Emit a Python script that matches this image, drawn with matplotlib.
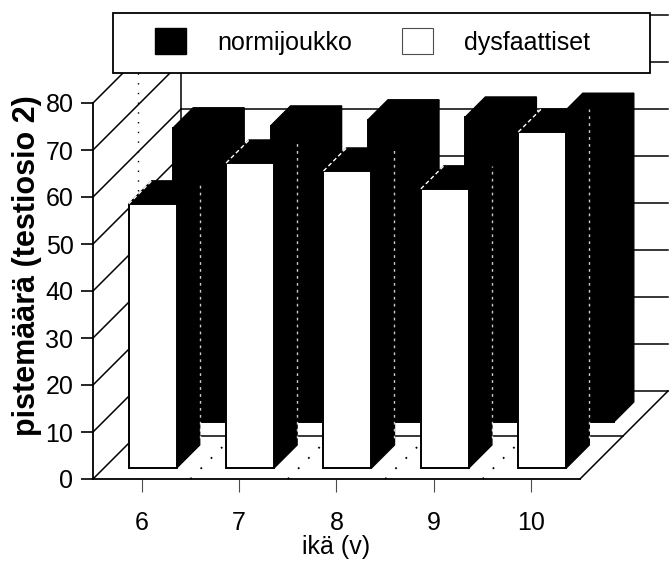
import matplotlib
matplotlib.use("Agg")
import matplotlib.pyplot as plt
from matplotlib.patches import Polygon, Rectangle, Patch

# ---------------- data ----------------
categories = ["6", "7", "8", "9", "10"]
normijoukko = [62.6, 63.0, 64.3, 64.9, 65.7]
dysfaattiset = [56.2, 64.9, 63.2, 59.4, 71.5]
yticks = [0, 10, 20, 30, 40, 50, 60, 70, 80]
series_labels = ["normijoukko", "dysfaattiset"]
xlabel = "ikä (v)"
ylabel = "pistemäärä (testiosio 2)"

# ---------------- figure ----------------
W, H = 669, 563
plt.rcParams["font.family"] = ["Liberation Sans", "DejaVu Sans"]
fig = plt.figure(figsize=(W / 100, H / 100), dpi=100)
ax_left, ax_bottom, ax_w, ax_h = 93, 479, 487, 376  # pixels (bottom measured from top)
ax = fig.add_axes([ax_left / W, (H - ax_bottom) / H, ax_w / W, ax_h / H])
n = len(categories)
ax.set_xlim(0, n)
ax.set_ylim(0, yticks[-1])
ax.patch.set_alpha(0)

PX = ax_w / n             # px per category unit
PY = ax_h / yticks[-1]    # px per value unit


def P(x, y, d):
    """oblique projection: depth d (pixels) recedes up-right at 45 deg"""
    return (x + d / PX, y + d / PY)


D_BACK = 88
D_MID = 43
LW = 1.1

# back wall gridlines + left wall diagonals
for v in yticks:
    (x0, y0), (x1, y1) = P(0, v, D_BACK), P(n, v, D_BACK)
    ax.plot([x0, x1], [y0, y1], color="black", lw=LW, clip_on=False, zorder=1)
    (a0, b0), (a1, b1) = P(0, v, 0), P(0, v, D_BACK)
    ax.plot([a0, a1], [b0, b1], color="black", lw=LW, clip_on=False, zorder=1)
# back wall left edge
(x0, y0), (x1, y1) = P(0, 0, D_BACK), P(0, yticks[-1], D_BACK)
ax.plot([x0, x1], [y0, y1], color="black", lw=LW, clip_on=False, zorder=1)
# dotted vertical on left wall
(x0, y0), (x1, y1) = P(0, 0, D_MID + 2), P(0, yticks[-1], D_MID + 2)
ax.plot([x0, x1], [y0, y1], color="black", lw=1.0, ls=(0, (1, 6)), clip_on=False, zorder=1)
# floor right edge and middle line
(x0, y0), (x1, y1) = P(n, 0, 0), P(n, 0, D_BACK)
ax.plot([x0, x1], [y0, y1], color="black", lw=LW, clip_on=False, zorder=1)
(x0, y0), (x1, y1) = P(0, 0, D_MID), P(n, 0, D_MID)
ax.plot([x0, x1], [y0, y1], color="black", lw=LW, clip_on=False, zorder=1)
# dotted category separators on the floor
for k in range(1, n):
    (x0, y0), (x1, y1) = P(k, 0, 0), P(k, 0, D_BACK)
    ax.plot([x0, x1], [y0, y1], color="black", lw=1.3, ls=(0, (1, 7)), clip_on=False, zorder=1)


def box(xc, h, d0, dd, w, front_fc, z, white_edges=False):
    x0, x1 = xc - w / 2, xc + w / 2
    side = [P(x1, 0, d0), P(x1, 0, d0 + dd), P(x1, h, d0 + dd), P(x1, h, d0)]
    top = [P(x0, h, d0), P(x1, h, d0), P(x1, h, d0 + dd), P(x0, h, d0 + dd)]
    front = [P(x0, 0, d0), P(x1, 0, d0), P(x1, h, d0), P(x0, h, d0)]
    for poly in (side, top):
        ax.add_patch(Polygon(poly, closed=True, facecolor="black", edgecolor="black",
                             lw=1.0, clip_on=False, zorder=z))
    ax.add_patch(Polygon(front, closed=True, facecolor=front_fc, edgecolor="black",
                         lw=1.4, clip_on=False, zorder=z + 0.1))
    if white_edges:
        (a0, b0), (a1, b1) = P(x0, h, d0), P(x0, h, d0 + dd)
        ax.plot([a0, a1], [b0, b1], color="white", lw=1.0, ls=(0, (3, 2)),
                clip_on=False, zorder=z + 0.2)
        (a0, b0), (a1, b1) = P(x1, 1.5, d0 + dd), P(x1, h, d0 + dd)
        ax.plot([a0, a1], [b0, b1], color="white", lw=1.0, ls=(0, (2, 3)),
                clip_on=False, zorder=z + 0.2, alpha=0.8)


# back row: normijoukko (black)
for i, v in enumerate(normijoukko):
    box(i + 0.5, v, 57, 20, 51 / PX, "black", 3 + i * 0.01)
# front row: dysfaattiset (white)
for i, v in enumerate(dysfaattiset):
    box(i + 0.5, v, 11, 23, 48 / PX, "white", 4 + i * 0.01, white_edges=True)

# axes styling
for s in ("top", "right"):
    ax.spines[s].set_visible(False)
ax.spines["left"].set_linewidth(1.3)
ax.spines["bottom"].set_linewidth(1.3)
ax.spines["left"].set_zorder(5)
ax.spines["bottom"].set_zorder(5)
ax.set_yticks(yticks)
ax.set_yticklabels([str(t) for t in yticks], fontsize=18)
ax.tick_params(axis="y", direction="out", length=8.6, width=1.2, pad=5.5)
ax.set_xticks([i + 0.5 for i in range(n)])
ax.set_xticklabels(categories, fontsize=18)
ax.tick_params(axis="x", direction="out", length=9.5, width=0.8, pad=13.5, color="0.3")
ax.set_xlabel(xlabel, fontsize=18)
ax.xaxis.set_label_coords(0.5, (ax_bottom - 535) / ax_h)
ax.set_ylabel(ylabel, fontsize=22, fontweight="bold")
ax.yaxis.set_label_coords((42 - ax_left) / ax_w, (ax_bottom - 266) / ax_h)

# legend frame + entries
fig.add_artist(Rectangle((113 / W, 1 - 73 / H), 537 / W, 60 / H, transform=fig.transFigure,
                         facecolor="white", edgecolor="black", lw=1.3, zorder=4))
fs_px = 18 * 100 / 72
handles = [Patch(facecolor="black", edgecolor="black", lw=1),
           Patch(facecolor="white", edgecolor="0.3", lw=0.8)]
starts = [155, 402]
for hdl, lab, xs in zip(handles, series_labels, starts):
    fig.legend([hdl], [lab], loc="upper left", bbox_to_anchor=(xs / W, 1 - 28 / H),
               bbox_transform=fig.transFigure, frameon=False, borderpad=0, borderaxespad=0,
               handlelength=31 / fs_px, handleheight=31 / fs_px, handletextpad=1.25,
               fontsize=18)

fig.savefig("out.png", dpi=100)
